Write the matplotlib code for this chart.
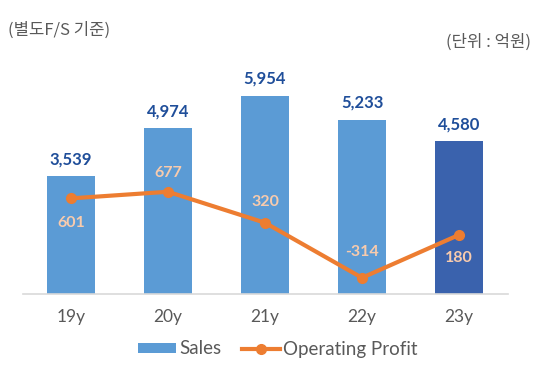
import matplotlib
matplotlib.use("Agg")
import matplotlib.pyplot as plt
from matplotlib.lines import Line2D
from matplotlib.patches import Patch

plt.rcParams['font.family'] = ['Lato', 'Noto Sans CJK KR', 'DejaVu Sans']

years = ["19y", "20y", "21y", "22y", "23y"]
sales = [3539, 4974, 5954, 5233, 4580]
profit = [601, 677, 320, -314, 180]
profit_offsets = [-24, 18, 20, 25, -22]  # label offsets in px (styling)

bar_colors = ["#5B9BD5", "#5B9BD5", "#5B9BD5", "#5B9BD5", "#3A62AD"]
line_color = "#ED7D31"
sales_label_color = "#1F4E9A"
profit_label_color = "#F8CBAD"
gray = "#595959"

fig = plt.figure(figsize=(5.5, 3.72), dpi=100)
ax = fig.add_axes([22.5/550, 78/372, 485/550, 220/372])
x = list(range(len(years)))
ax.bar(x, sales, width=0.485, color=bar_colors, zorder=2)
ax.set_xlim(-0.5, len(years) - 0.5)
ax.set_ylim(0, 6600)
for s in ["top", "right", "left"]:
    ax.spines[s].set_visible(False)
ax.spines["bottom"].set_color("#D9D9D9")
ax.spines["bottom"].set_linewidth(1.2)
ax.set_yticks([])
ax.set_xticks(x)
ax.set_xticklabels(years, fontsize=12.5, color=gray)
ax.tick_params(axis="x", length=0, pad=11)

for xi, v in zip(x, sales):
    ax.annotate(f"{v:,}", (xi, v), xytext=(0, 12), textcoords="offset points",
                ha="center", va="center", fontsize=12, fontweight="bold",
                color=sales_label_color)

ax2 = ax.twinx()
ax2.set_ylim(-501, 2034)
ax2.axis("off")
ax2.plot(x, profit, color=line_color, lw=3, marker="o", ms=7, zorder=3)
for xi, v, off in zip(x, profit, profit_offsets):
    ax2.annotate(f"{v:,}", (xi, v), xytext=(0, off * 0.75), textcoords="offset points",
                 ha="center", va="center", fontsize=11.5, fontweight="bold",
                 color=profit_label_color)

fig.text(8/550, 1 - 30/372, "(별도F/S 기준)", fontsize=12, color=gray,
         ha="left", va="center", family=['Noto Sans CJK KR', 'DejaVu Sans'])
fig.text(531/550, 1 - 42/372, "(단위 : 억원)", fontsize=12, color=gray,
         ha="right", va="center", family=['Noto Sans CJK KR', 'DejaVu Sans'])

handles = [Patch(facecolor="#5B9BD5", label="Sales"),
           Line2D([0], [0], color=line_color, lw=3, marker="o", ms=7,
                  label="Operating Profit")]
fig.legend(handles=handles, loc="center", bbox_to_anchor=(278/550, 1 - 349/372),
           ncol=2, frameon=False, fontsize=13.5, labelcolor=gray,
           handlelength=2.0, handleheight=0.45, columnspacing=1.1, handletextpad=0.2)

fig.savefig("out.png", dpi=100)
